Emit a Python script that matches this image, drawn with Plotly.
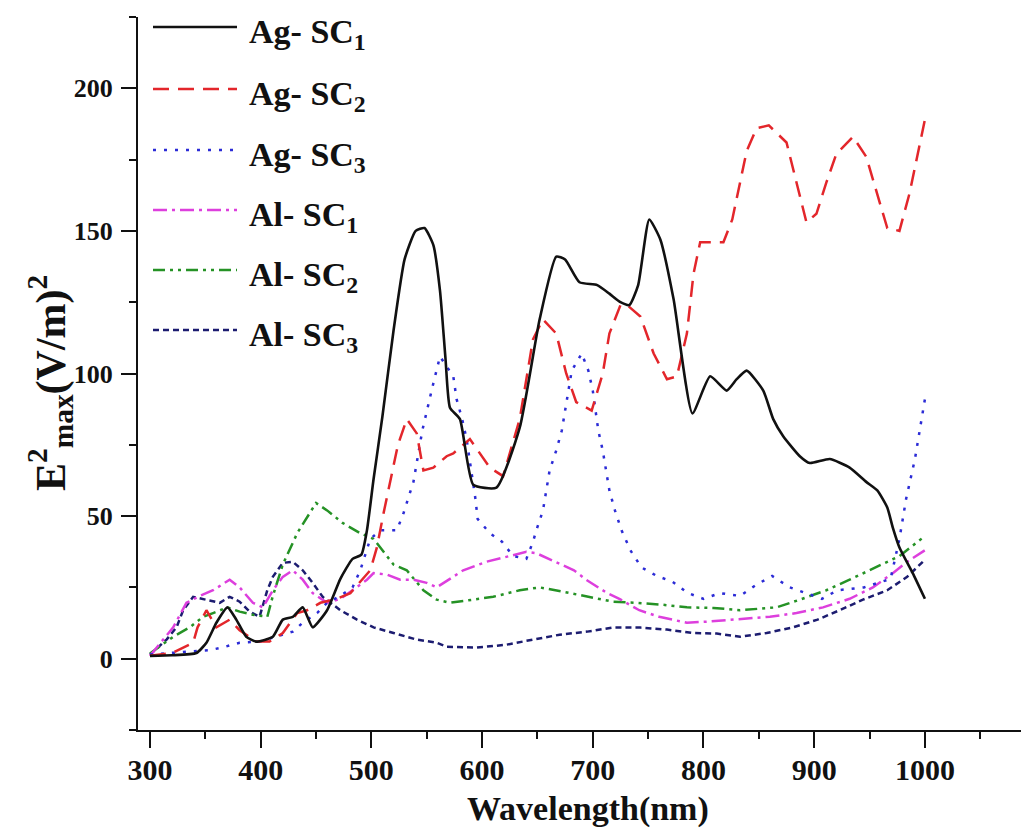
import plotly.graph_objects as go

# ---------------- data ----------------
ag_sc1_x = [300, 320, 342, 351, 360, 370, 378, 387, 396, 411, 420, 429, 438, 447, 460, 472, 483, 491,
            496, 502, 510, 520, 530, 540, 548, 556, 562, 567, 571, 580, 592, 613, 634, 652, 667, 675,
            688, 704, 715, 725, 733, 741, 751, 761, 773, 790, 806, 821, 830, 839, 854, 863, 872, 887,
            896, 914, 932, 947, 957, 966, 971, 977, 989, 1000]
ag_sc1_y = [1, 1.2, 2, 5.6, 12.6, 18, 13.7, 7.7, 6, 7.7, 13.7, 14.7, 18, 11, 17, 28, 35, 36.5,
            45, 63, 85, 115, 140, 150, 151, 145, 129, 105, 88, 84, 61, 60, 81, 119, 141, 140,
            132, 131, 128, 125, 124, 131, 154, 147, 126, 86, 99, 94, 98, 101, 94, 84, 78, 71,
            68.6, 70, 67, 62, 59, 53, 46, 39, 30, 21]

ag_sc2_x = [300, 320, 339, 343, 351, 360, 372, 381, 396, 408, 420, 433, 442, 454, 469, 481, 499, 505,
            511, 517, 524, 532, 541, 547, 556, 568, 574, 589, 607, 619, 634, 646, 655, 667, 676, 685,
            699, 709, 715, 725, 731, 743, 755, 767, 776, 785, 791, 797, 818, 826, 833, 839, 848, 859,
            875, 884, 893, 902, 911, 920, 935, 947, 956, 966, 977, 986, 993, 1000]
ag_sc2_y = [1, 2, 5.6, 11, 17, 11, 13.7, 10, 6, 6, 9, 16, 17, 19.6, 21, 23, 31, 39,
            51, 62, 75, 84, 79, 66, 67, 71, 72, 77, 67, 64, 84, 112, 119, 114, 100, 90,
            87, 100, 114, 124, 124, 120, 107, 98, 99, 114, 135, 146, 146, 154, 167, 178, 186, 187,
            181, 167, 153, 156, 167, 177, 183, 176, 164, 151, 150, 163, 176, 189]

ag_sc3_x = [300, 354, 366, 381, 399, 417, 429, 438, 451, 460, 472, 483, 490, 499, 508, 523, 529, 538,
            546, 555, 562, 574, 577, 582, 586, 594, 596, 607, 618, 628, 640, 646, 649, 655, 661, 667,
            672, 678, 681, 690, 696, 700, 705, 709, 715, 720, 726, 734, 744, 758, 772, 786, 800, 815,
            833, 848, 862, 878, 907, 921, 945, 969, 977, 983, 991, 1000]
ag_sc3_y = [1.5, 3, 4, 5.6, 6, 8, 9.5, 12.6, 16, 19.6, 22, 25, 31, 42, 45, 45, 51, 62,
            80, 95, 106, 99, 91, 84, 77, 56, 49, 44, 41, 36, 35, 41, 45, 52, 66, 73,
            80, 94, 101, 107, 101, 94, 80, 73, 59, 52, 45, 38, 32, 29, 27, 23, 21, 23,
            22, 26, 29, 25, 21, 24, 25, 28, 42, 56, 70, 91]

al_sc1_x = [300, 321, 333, 345, 357, 372, 381, 393, 402, 411, 420, 429, 438, 447, 460, 472, 483, 496,
            502, 514, 526, 538, 550, 559, 583, 604, 625, 640, 649, 668, 683, 694, 713, 724, 742, 760,
            785, 803, 827, 860, 884, 908, 932, 953, 971, 984, 1000]
al_sc1_y = [1, 11, 19.6, 22, 24, 27.7, 25, 19.6, 18, 24, 28.7, 31, 27.7, 23, 19.6, 21, 24, 27.7,
            30, 29.5, 27.7, 27.7, 26.6, 25, 31, 34, 36, 37.5, 37, 33.6, 31, 27.7, 23, 21, 17, 14.7,
            12.6, 13, 13.7, 14.7, 16, 18, 21, 25, 30, 34, 38]

al_sc2_x = [300, 321, 336, 348, 357, 370, 381, 393, 406, 411, 420, 433, 450, 460, 474, 490, 502, 520,
            532, 547, 559, 571, 592, 610, 634, 652, 673, 697, 718, 739, 761, 785, 809, 833, 866, 887,
            911, 932, 956, 977, 1000]
al_sc2_y = [1.8, 7.7, 11, 14.7, 16, 18, 16.5, 15.4, 14.7, 22, 33, 44, 54.6, 52, 47.6, 44, 42, 33,
            31, 24, 20.7, 19.6, 20.7, 21.7, 24, 25, 23.5, 21.7, 20, 19.6, 19, 18, 17.8, 17, 18, 20.7,
            24, 27.7, 32, 36, 43]

al_sc3_x = [300, 315, 324, 330, 339, 351, 363, 372, 381, 390, 399, 406, 411, 420, 429, 438, 447, 456,
            472, 487, 502, 520, 541, 559, 568, 595, 622, 646, 670, 695, 718, 743, 767, 791, 812, 833,
            857, 881, 903, 923, 944, 966, 984, 1000]
al_sc3_y = [1.4, 6.7, 11, 17, 21.7, 20.7, 19.6, 21.7, 20, 16.5, 14.7, 24, 28.7, 33.6, 34, 31, 26.6, 21.7,
            17, 13.7, 11, 9, 6.7, 5.6, 4.2, 3.9, 4.9, 6.7, 8.4, 9.5, 10.9, 10.9, 10.2, 9, 8.8, 7.7,
            9, 11, 13.7, 17, 20.7, 24, 28.7, 34.7]

series_names = ["Ag- SC<sub>1</sub>", "Ag- SC<sub>2</sub>", "Ag- SC<sub>3</sub>",
                "Al- SC<sub>1</sub>", "Al- SC<sub>2</sub>", "Al- SC<sub>3</sub>"]
x_ticks = [300, 400, 500, 600, 700, 800, 900, 1000]
y_ticks = [0, 50, 100, 150, 200]

# ---------------- styles ----------------
colors = ["#111111", "#e3262b", "#2b2bd6", "#dd3fdd", "#259225", "#1c1c70"]
dashes = ["solid", "16px,9px", "3px,8px", "14px,5px,3px,5px", "12px,5px,3px,5px,3px,5px", "6px,4px"]
shapes_line = ["spline", "linear", "linear", "linear", "linear", "linear"]
xs = [ag_sc1_x, ag_sc2_x, ag_sc3_x, al_sc1_x, al_sc2_x, al_sc3_x]
ys = [ag_sc1_y, ag_sc2_y, ag_sc3_y, al_sc1_y, al_sc2_y, al_sc3_y]

FONT = "Liberation Serif, Times New Roman, serif"
W, H = 1021, 830
L, R, T, B = 138, 0, 17, 100
PW, PH = W - L - R, H - T - B

fig = go.Figure()
# draw in an order so the black line sits on top
for i in [5, 4, 3, 2, 1, 0]:
    fig.add_trace(go.Scatter(
        x=xs[i], y=ys[i], mode="lines", name=series_names[i], showlegend=False,
        line=dict(color=colors[i], width=2.6 if i == 0 else 2.5, dash=dashes[i], shape=shapes_line[i],
                  smoothing=0.5 if shapes_line[i] == "spline" else None),
    ))

def px_to_paper(px, py):
    return (px - L) / PW, (H - B - py) / PH

# manual legend (long line samples like the reference)
leg_y = [27, 89, 150, 210, 270, 330]
for i, ly in enumerate(leg_y):
    x0, y0 = px_to_paper(153, ly)
    x1, _ = px_to_paper(237, ly)
    fig.add_shape(type="line", xref="paper", yref="paper", x0=x0, x1=x1, y0=y0, y1=y0,
                  line=dict(color=colors[i], width=2.5, dash=dashes[i]))
    tx, ty = px_to_paper(247, ly + 7)
    fig.add_annotation(xref="paper", yref="paper", x=tx, y=ty, xanchor="left", yanchor="middle",
                       text=series_names[i], showarrow=False,
                       font=dict(family=FONT, size=34, color="#111111", weight="bold"))

# axis titles
tx, ty = px_to_paper(588, 809)
fig.add_annotation(xref="paper", yref="paper", x=tx, y=ty, xanchor="center", yanchor="middle",
                   text="Wavelength(nm)", showarrow=False,
                   font=dict(family=FONT, size=34, color="#111111", weight="bold"))
tx, ty = px_to_paper(50, 383)
fig.add_annotation(xref="paper", yref="paper", x=tx, y=ty, xanchor="center", yanchor="middle",
                   text="E<sup>2</sup><sub>max</sub>(V/m)<sup>2</sup>", showarrow=False, textangle=-90,
                   font=dict(family=FONT, size=42, color="#111111", weight="bold"))

axis_common = dict(showline=True, linecolor="#111111", linewidth=2, ticks="outside",
                   tickwidth=2, tickcolor="#111111", showgrid=False, zeroline=False)

fig.update_xaxes(range=[289.2, 1086.8], tickvals=x_ticks, ticklen=16, ticklabelstandoff=-4,
                 tickfont=dict(family=FONT, size=30, color="#111111", weight="bold"),
                 minor=dict(ticks="outside", dtick=50, tick0=300, ticklen=7, tickwidth=2,
                            tickcolor="#111111"),
                 **axis_common)
fig.update_yaxes(range=[-25, 225], tickvals=y_ticks, ticklen=15, ticklabelstandoff=3,
                 tickfont=dict(family=FONT, size=26, color="#111111", weight="bold"),
                 minor=dict(ticks="outside", dtick=25, tick0=0, ticklen=7, tickwidth=2,
                            tickcolor="#111111"),
                 **axis_common)

fig.update_layout(width=W, height=H, margin=dict(l=L, r=R, t=T, b=B, pad=0),
                  plot_bgcolor="white", paper_bgcolor="white", showlegend=False)

fig.write_html("out.html")
